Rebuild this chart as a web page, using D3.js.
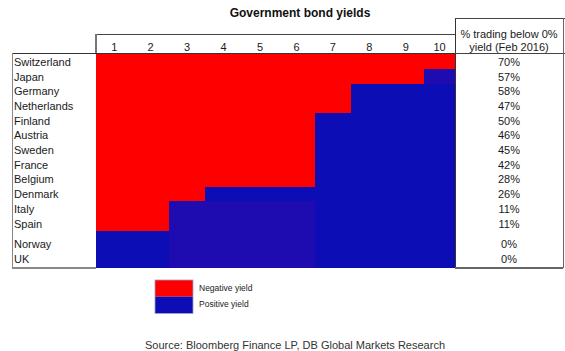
<!DOCTYPE html>
<html>
<head>
<meta charset="utf-8">
<script src="https://cdn.jsdelivr.net/npm/d3@7"></script>
<style>
  html, body { margin: 0; padding: 0; background: #fff; }
  svg { display: block; font-family: "Liberation Sans", Arial, sans-serif; }
</style>
</head>
<body>
<svg id="chart" width="565" height="351"></svg>
<script>
// ---- data ----
const title = "Government bond yields";
const countries = ["Switzerland","Japan","Germany","Netherlands","Finland","Austria","Sweden","France","Belgium","Denmark","Italy","Spain","Norway","UK"];
const maturities = [1,2,3,4,5,6,7,8,9,10];
// N = negative yield, P = positive yield, Q = positive yield (second shade in source image)
const cellCodes = [
  "NNNNNNNNNN", // Switzerland
  "NNNNNNNNNQ", // Japan
  "NNNNNNNPPP", // Germany
  "NNNNNNNPPP", // Netherlands
  "NNNNNNPPPP", // Finland
  "NNNNNNPPPP", // Austria
  "NNNNNNPPPP", // Sweden
  "NNNNNNPPPP", // France
  "NNNNNNPPPP", // Belgium
  "NNNPPPPPPP", // Denmark
  "NNQQQQPPPP", // Italy
  "NNQQQQPPPP", // Spain
  "PPQQQQPPPP", // Norway
  "PPQQQQPPPP"  // UK
];
const pctBelowZero = [70,57,58,47,50,46,45,42,28,26,11,11,0,0];
const pctHeader = ["% trading below 0%", "yield (Feb 2016)"];
const legendItems = [{code:"N", label:"Negative yield"},{code:"P", label:"Positive yield"}];
const source = "Source: Bloomberg Finance LP, DB Global Markets Research";

// ---- styles ----
const colors = {N: "#ff0000", P: "#0c0db4", Q: "#1f0cb0"};
const textColor = "#1a1a1a";

const svg = d3.select("#chart");

// scales
const x = d3.scaleLinear().domain([0, 9, 10]).range([96, 424, 455]);
const y = d3.scaleLinear().domain([0, 1, 12, 14]).range([53, 69.3, 230.7, 267]);
const yLabel = d3.scaleLinear().domain([0, 1, 11, 12, 13]).range([61.5, 76.5, 223.5, 243.5, 259]);

// cells
const cells = [];
countries.forEach((c, r) => {
  maturities.forEach((m, i) => cells.push({r, i, code: cellCodes[r][i]}));
});
svg.append("g").selectAll("rect").data(cells).join("rect")
  .attr("x", d => x(d.i))
  .attr("y", d => y(d.r))
  .attr("width", d => x(d.i + 1) - x(d.i) + 0.5)
  .attr("height", d => y(d.r + 1) - y(d.r) + 0.5)
  .attr("fill", d => colors[d.code])
  .attr("shape-rendering", "crispEdges");

// title
svg.append("text").attr("x", 300).attr("y", 17).attr("text-anchor", "middle")
  .attr("font-size", 12).attr("font-weight", "bold").attr("fill", "#111").text(title);

// column labels
svg.append("g").selectAll("text").data(maturities).join("text")
  .attr("x", (d, i) => (x(i) + x(i + 1)) / 2)
  .attr("y", 50.5)
  .attr("text-anchor", "middle").attr("font-size", 11).attr("fill", textColor)
  .text(d => d);

// country labels
svg.append("g").selectAll("text").data(countries).join("text")
  .attr("x", 14)
  .attr("y", (d, i) => yLabel(i) + 4)
  .attr("font-size", 11).attr("fill", textColor)
  .text(d => d);

// percentages
svg.append("g").selectAll("text").data(pctBelowZero).join("text")
  .attr("x", 509)
  .attr("y", (d, i) => yLabel(i) + 4)
  .attr("text-anchor", "middle").attr("font-size", 11).attr("fill", textColor)
  .text(d => d + "%");

// header text of right column
svg.append("g").selectAll("text").data(pctHeader).join("text")
  .attr("x", 509)
  .attr("y", (d, i) => 38 + i * 13)
  .attr("text-anchor", "middle").attr("font-size", 11).attr("fill", textColor)
  .text(d => d);

// lines / borders
const lines = svg.append("g").attr("fill", "none").attr("shape-rendering", "crispEdges");
const ln = (x1, y1, x2, y2, stroke, w) => lines.append("line")
  .attr("x1", x1).attr("y1", y1).attr("x2", x2).attr("y2", y2)
  .attr("stroke", stroke).attr("stroke-width", w);
// heatmap header
ln(96, 34.5, 455, 34.5, "#444", 1);
ln(96, 34, 96, 53, "#777", 2);
// label column box
ln(12, 53.5, 455, 53.5, "#333", 1);
ln(12.5, 53, 12.5, 268, "#888", 1.5);
ln(12, 267.5, 96, 267.5, "#888", 2);
// right column box
ln(455.5, 18, 455.5, 268, "#333", 1);
ln(455, 18.5, 565, 18.5, "#444", 1);
ln(455, 53, 565, 53, "#444", 1);
ln(455, 267.5, 563, 267.5, "#666", 2);
ln(563, 18, 563, 268, "#666", 1);

// legend
const lg = svg.append("g");
lg.selectAll("rect").data(legendItems).join("rect")
  .attr("x", 155).attr("y", (d, i) => 280 + i * 16.7)
  .attr("width", 38).attr("height", 16.7)
  .attr("fill", d => colors[d.code]);
lg.append("rect").attr("x", 155).attr("y", 280).attr("width", 38).attr("height", 33.4)
  .attr("fill", "none").attr("stroke", "#9aa0c8").attr("stroke-width", 0.8);
lg.selectAll("text").data(legendItems).join("text")
  .attr("x", 199).attr("y", (d, i) => 291 + i * 16)
  .attr("font-size", 8.5).attr("fill", "#222")
  .text(d => d.label);

// source
svg.append("text").attr("x", 145).attr("y", 349)
  .attr("font-size", 11).attr("fill", "#333").text(source);
</script>
</body>
</html>
